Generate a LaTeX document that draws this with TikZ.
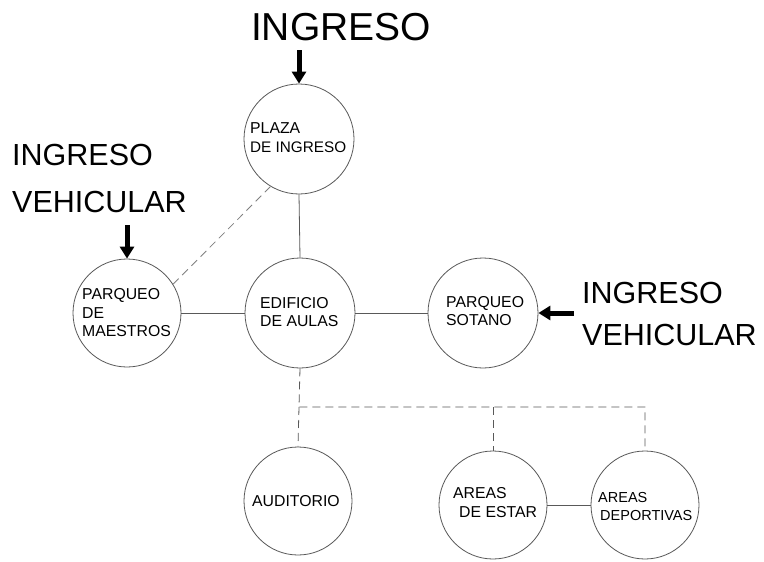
\documentclass[tikz,border=0pt]{standalone}
\usepackage{fontspec}
\setmainfont{Liberation Sans}
\usetikzlibrary{arrows.meta}
\begin{document}
\begin{tikzpicture}[x=1pt,y=-1pt,
  room/.style={circle,draw=black!65,line width=0.8pt,inner sep=0pt,minimum size=#1},
  lbl/.style={anchor=base west,inner sep=0pt,font=\fontsize{15.8}{18}\selectfont},
  big/.style={anchor=base west,inner sep=0pt,font=\fontsize{30.5}{36}\selectfont},
  link/.style={draw=black!65,line width=0.8pt},
  dlink/.style={draw=black!65,line width=0.8pt,dash pattern=on 8pt off 5pt},
  entry/.style={line width=5pt,-{Triangle[width=14pt,length=12pt]}}]
\path[use as bounding box,fill=white] (0,0) rectangle (764,562);
% rooms
\node[room=110pt] (plaza) at (299,139) {};
\node[room=108pt] (maestros) at (127,313) {};
\node[room=110pt] (edificio) at (300,313) {};
\node[room=110pt] (sotano) at (483,313) {};
\node[room=108pt] (auditorio) at (298,501) {};
\node[room=108pt] (estar) at (493,505) {};
\node[room=108pt] (deportivas) at (645,505) {};
% labels
\node[lbl] (tplaza1) at (250,133) {PLAZA};
\node[lbl,font=\fontsize{15.3}{18}\selectfont] (tplaza2) at (250,152) {DE INGRESO};
\node[lbl] (tmae1) at (82,299) {PARQUEO};
\node[lbl] (tmae2) at (82,318) {DE};
\node[lbl] (tmae3) at (82,336) {MAESTROS};
\node[lbl] (tedi1) at (260,308) {EDIFICIO};
\node[lbl] (tedi2) at (260,326) {DE AULAS};
\node[lbl] (tsot1) at (446,307) {PARQUEO};
\node[lbl] (tsot2) at (446,325) {SOTANO};
\node[lbl] (taud) at (252,506) {AUDITORIO};
\node[lbl] (test1) at (453,498) {AREAS};
\node[lbl] (test2) at (459,517) {DE ESTAR};
\node[lbl,font=\fontsize{14.5}{17}\selectfont] (tdep1) at (598,502) {AREAS};
\node[lbl,font=\fontsize{14.5}{17}\selectfont] (tdep2) at (600,520) {DEPORTIVAS};
% big texts
\node[anchor=base,inner sep=0pt,font=\fontsize{39}{44}\selectfont] (ing1) at (341,40) {INGRESO};
\node[big] (ing2) at (12,165) {INGRESO};
\node[big] (veh2) at (12,212) {VEHICULAR};
\node[big] (ing3) at (582,303) {INGRESO};
\node[big] (veh3) at (582,345) {VEHICULAR};
% connectors
\draw[link] (plaza.south) -- (edificio.north);
\draw[link] (maestros.east) -- (edificio.west);
\draw[link] (edificio.east) -- (sotano.west);
\draw[link] (estar.east) -- (deportivas.west);
\draw[dlink,draw=black!50] (plaza.-121) -- (maestros.32);
\coordinate (bus1) at (299,407);
\coordinate (bus2) at (493,407);
\coordinate (bus3) at (645,407);
\draw[dlink] (edificio.south) -- (bus1) -- (bus3) -- (deportivas.north);
\draw[dlink] (bus1) -- (auditorio.north);
\draw[dlink] (bus2) -- (estar.north);
% entry arrows
\coordinate (a1) at (299,50);
\coordinate (a2) at (127,225);
\coordinate (a3) at (574,313);
\draw[entry] (a1) -- (plaza.north);
\draw[entry] (a2) -- (maestros.north);
\draw[entry] (a3) -- (sotano.east);
\end{tikzpicture}
\end{document}
